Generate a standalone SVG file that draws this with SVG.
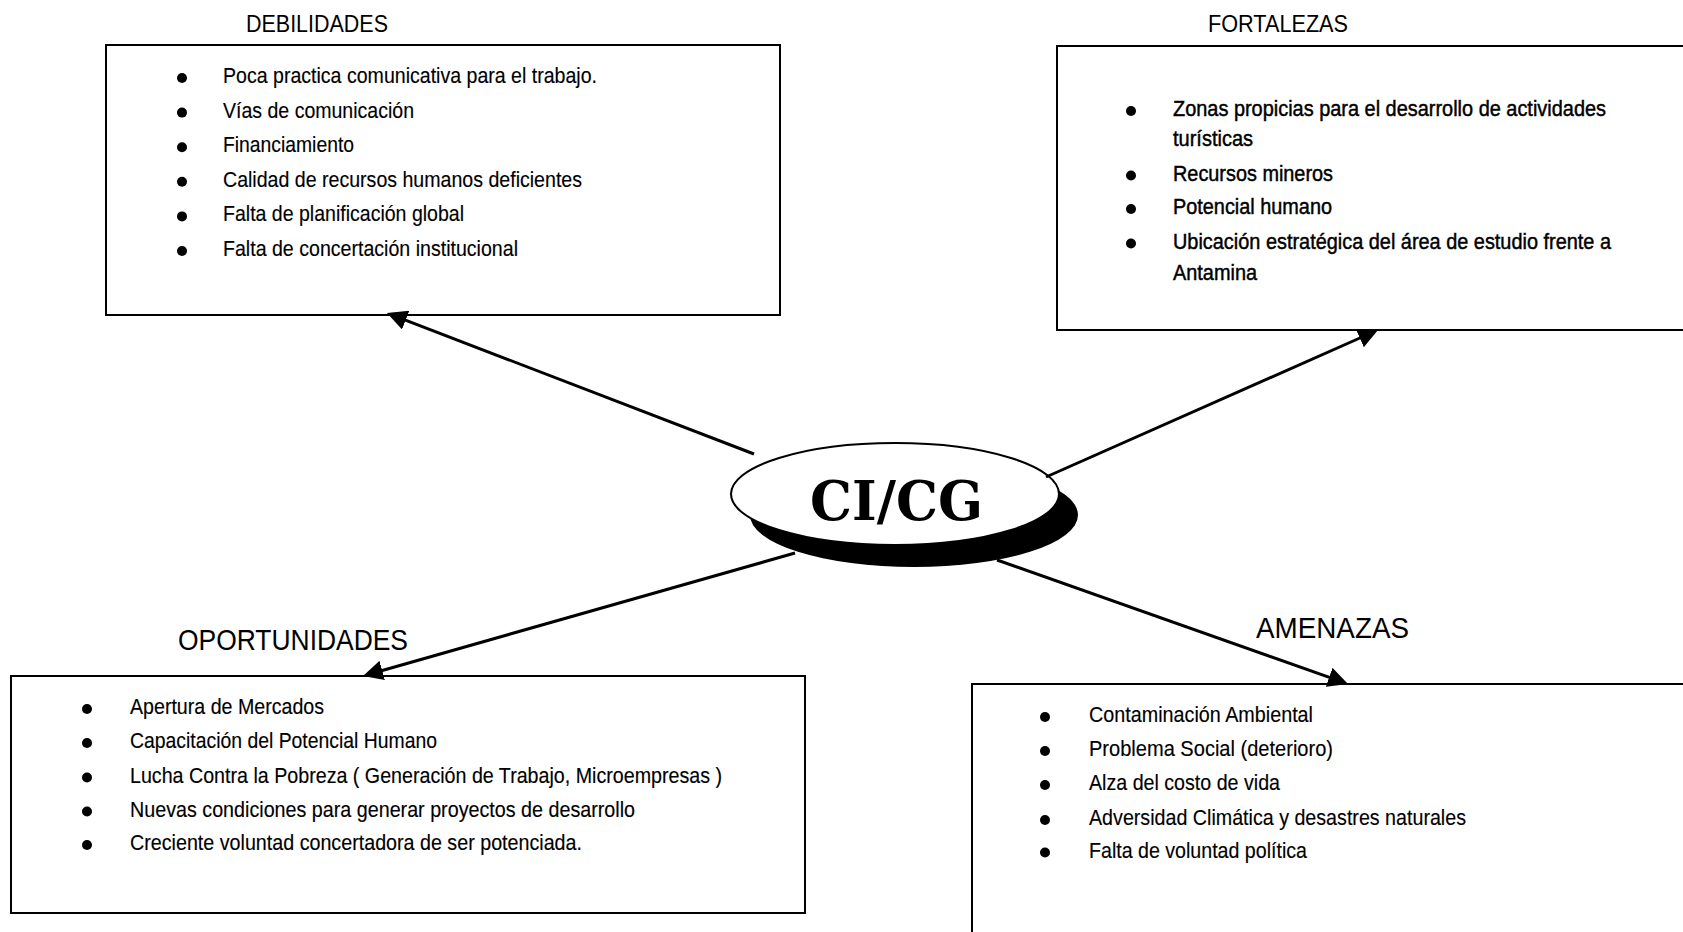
<svg xmlns="http://www.w3.org/2000/svg" width="1683" height="932" viewBox="0 0 1683 932">
  <style>
    .box { fill: #ffffff; stroke: #000000; stroke-width: 2; }
    .title { font-family: "Liberation Sans", Arial, sans-serif; fill: #000000; }
    .item { font-family: "Liberation Sans", Arial, sans-serif; font-size: 22px; fill: #000000; stroke: #000000; stroke-width: 0.15; }
    .strong { stroke-width: 0.45; }
    .dot { fill: #000000; }
    .link { stroke: #000000; stroke-width: 3; fill: none; marker-end: url(#head); }
    .core { font-family: "DejaVu Serif", "Liberation Serif", serif; font-weight: bold; font-size: 55px; fill: #000000; }
  </style>
  <defs>
    <marker id="head" viewBox="0 0 20 20" refX="10" refY="10" markerWidth="20" markerHeight="20" markerUnits="userSpaceOnUse" orient="auto">
      <path d="M0,0 L20,10 L0,20 z" fill="#000000"/>
    </marker>
  </defs>
  <rect width="1683" height="932" fill="#ffffff"/>

  <!-- Weaknesses -->
  <g id="debilidades">
    <text class="title" x="246" y="32" font-size="23" textLength="142" lengthAdjust="spacingAndGlyphs">DEBILIDADES</text>
    <rect class="box" x="106" y="45" width="674" height="270"/>
    <circle class="dot" cx="182" cy="78" r="5"/>
    <circle class="dot" cx="182" cy="112.6" r="5"/>
    <circle class="dot" cx="182" cy="147.2" r="5"/>
    <circle class="dot" cx="182" cy="181.8" r="5"/>
    <circle class="dot" cx="182" cy="216.4" r="5"/>
    <circle class="dot" cx="182" cy="251" r="5"/>
    <text class="item" x="223" y="83" textLength="374" lengthAdjust="spacingAndGlyphs">Poca practica comunicativa para el trabajo.</text>
    <text class="item" x="223" y="117.6" textLength="191" lengthAdjust="spacingAndGlyphs">Vías de comunicación</text>
    <text class="item" x="223" y="152.2" textLength="131" lengthAdjust="spacingAndGlyphs">Financiamiento</text>
    <text class="item" x="223" y="186.8" textLength="359" lengthAdjust="spacingAndGlyphs">Calidad de recursos humanos deficientes</text>
    <text class="item" x="223" y="221.4" textLength="241" lengthAdjust="spacingAndGlyphs">Falta de planificación global</text>
    <text class="item" x="223" y="256" textLength="295" lengthAdjust="spacingAndGlyphs">Falta de concertación institucional</text>
  </g>

  <!-- Strengths -->
  <g id="fortalezas">
    <text class="title" x="1208" y="32" font-size="23" textLength="140" lengthAdjust="spacingAndGlyphs">FORTALEZAS</text>
    <rect class="box" x="1057" y="46" width="700" height="284"/>
    <circle class="dot" cx="1131" cy="111" r="5"/>
    <circle class="dot" cx="1131" cy="175.5" r="5"/>
    <circle class="dot" cx="1131" cy="209" r="5"/>
    <circle class="dot" cx="1131" cy="243.5" r="5"/>
    <text class="item strong" x="1173" y="116" textLength="433" lengthAdjust="spacingAndGlyphs">Zonas propicias para el desarrollo de actividades</text>
    <text class="item strong" x="1173" y="146" textLength="80" lengthAdjust="spacingAndGlyphs">turísticas</text>
    <text class="item strong" x="1173" y="180.5" textLength="160" lengthAdjust="spacingAndGlyphs">Recursos mineros</text>
    <text class="item strong" x="1173" y="214" textLength="159" lengthAdjust="spacingAndGlyphs">Potencial humano</text>
    <text class="item strong" x="1173" y="248.5" textLength="438" lengthAdjust="spacingAndGlyphs">Ubicación estratégica del área de estudio frente a</text>
    <text class="item strong" x="1173" y="279.5" textLength="84" lengthAdjust="spacingAndGlyphs">Antamina</text>
  </g>

  <!-- Opportunities -->
  <g id="oportunidades">
    <text class="title" x="178" y="650" font-size="30" textLength="230" lengthAdjust="spacingAndGlyphs">OPORTUNIDADES</text>
    <rect class="box" x="11" y="676" width="794" height="237"/>
    <circle class="dot" cx="87" cy="709" r="5"/>
    <circle class="dot" cx="87" cy="743" r="5"/>
    <circle class="dot" cx="87" cy="777.5" r="5"/>
    <circle class="dot" cx="87" cy="811.5" r="5"/>
    <circle class="dot" cx="87" cy="845" r="5"/>
    <text class="item" x="130" y="714" textLength="194" lengthAdjust="spacingAndGlyphs">Apertura de Mercados</text>
    <text class="item" x="130" y="748" textLength="307" lengthAdjust="spacingAndGlyphs">Capacitación del Potencial Humano</text>
    <text class="item" x="130" y="782.5" textLength="592" lengthAdjust="spacingAndGlyphs">Lucha Contra la Pobreza ( Generación de Trabajo, Microempresas )</text>
    <text class="item" x="130" y="816.5" textLength="505" lengthAdjust="spacingAndGlyphs">Nuevas condiciones para generar proyectos de desarrollo</text>
    <text class="item" x="130" y="850" textLength="452" lengthAdjust="spacingAndGlyphs">Creciente voluntad concertadora de ser potenciada.</text>
  </g>

  <!-- Threats -->
  <g id="amenazas">
    <text class="title" x="1256" y="638" font-size="29" textLength="153" lengthAdjust="spacingAndGlyphs">AMENAZAS</text>
    <rect class="box" x="972" y="684" width="800" height="300"/>
    <circle class="dot" cx="1045" cy="717" r="5"/>
    <circle class="dot" cx="1045" cy="751" r="5"/>
    <circle class="dot" cx="1045" cy="785" r="5"/>
    <circle class="dot" cx="1045" cy="820" r="5"/>
    <circle class="dot" cx="1045" cy="852.5" r="5"/>
    <text class="item" x="1089" y="722" textLength="224" lengthAdjust="spacingAndGlyphs">Contaminación Ambiental</text>
    <text class="item" x="1089" y="756" textLength="244" lengthAdjust="spacingAndGlyphs">Problema Social (deterioro)</text>
    <text class="item" x="1089" y="790" textLength="191" lengthAdjust="spacingAndGlyphs">Alza del costo de vida</text>
    <text class="item" x="1089" y="825" textLength="377" lengthAdjust="spacingAndGlyphs">Adversidad Climática y desastres naturales</text>
    <text class="item" x="1089" y="857.5" textLength="218" lengthAdjust="spacingAndGlyphs">Falta de voluntad política</text>
  </g>

  <!-- Central oval with drop shadow -->
  <g id="cicg">
    <ellipse cx="914" cy="515" rx="164" ry="52" fill="#000000"/>
    <ellipse cx="895" cy="494" rx="164" ry="51" fill="#ffffff" stroke="#000000" stroke-width="2"/>
    <text class="core" x="810" y="520" textLength="173" lengthAdjust="spacingAndGlyphs">CI/CG</text>
  </g>

  <!-- Connectors from the oval to each box -->
  <g id="connectors">
    <line class="link" x1="754" y1="454" x2="396.3" y2="316.6"/>
    <line class="link" x1="1046" y1="477" x2="1368.9" y2="334"/>
    <line class="link" x1="795" y1="553" x2="372.6" y2="673.2"/>
    <line class="link" x1="997" y1="560" x2="1338.6" y2="680.6"/>
  </g>
</svg>
